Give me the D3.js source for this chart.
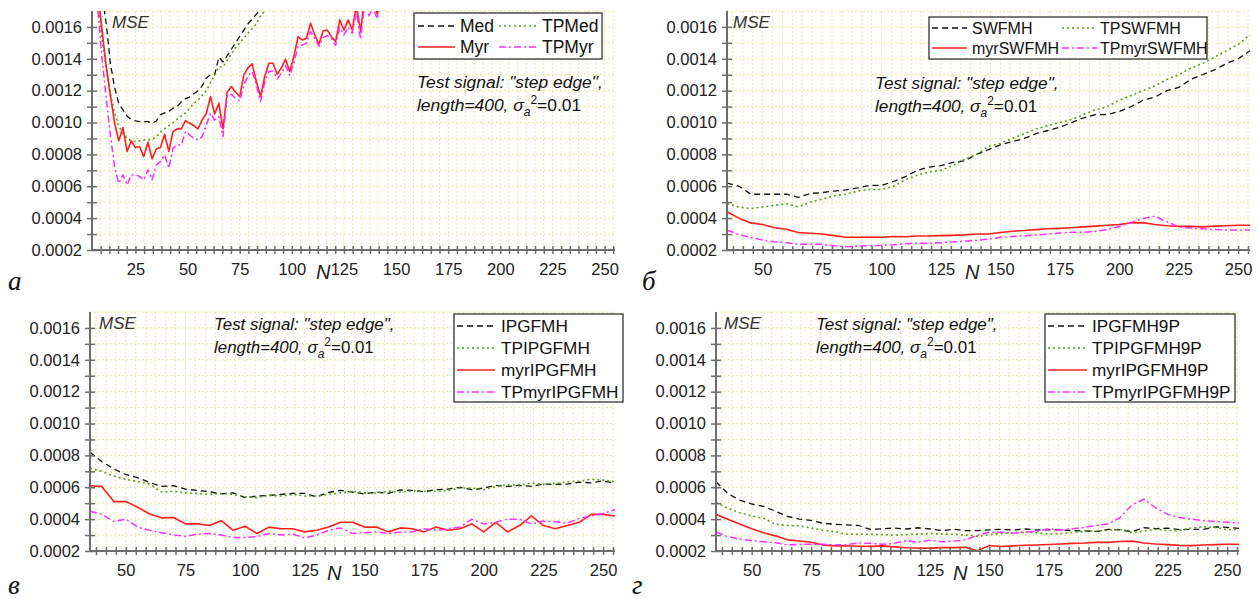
<!DOCTYPE html>
<html>
<head>
<meta charset="utf-8">
<script src="https://cdnjs.cloudflare.com/ajax/libs/d3/7.8.5/d3.min.js"></script>
<style>
  body { margin: 0; background: #fff; }
  svg { display: block; font-family: "Liberation Sans", Arial, sans-serif; }
</style>
</head>
<body>
<svg id="chart" width="1258" height="599"></svg>
<script>
// ---- data (MSE vs window size N) ----
const yMajorTicks = [0.0002, 0.0004, 0.0006, 0.0008, 0.0010, 0.0012, 0.0014, 0.0016];

// panel а
const nA = d3.range(7, 144, 2);
const medA = [0.0019,0.0018,0.00162,0.00137,0.00122,0.00112,0.00108,0.00104,0.00102,0.00101,0.001006,0.001006,0.001006,0.000995,0.00101,0.00105,0.00106,0.00107,0.00109,0.0011,0.00113,0.00115,0.00116,0.00118,0.0012,0.00123,0.00128,0.0013,0.0013,0.00141,0.00138,0.00142,0.00146,0.0015,0.00154,0.00158,0.00162,0.00165,0.00168,0.00171,0.00175,0.00179];
const tpMedA = [0.0018,0.00152,0.00134,0.00118,0.00106,0.00098,0.00093,0.0009,0.000885,0.00088,0.000885,0.00089,0.00089,0.000895,0.00091,0.00094,0.00096,0.00098,0.001,0.00102,0.00104,0.00106,0.00109,0.00112,0.00114,0.00117,0.0012,0.00125,0.0013,0.00135,0.00135,0.00139,0.00143,0.00147,0.0015,0.00153,0.00156,0.00159,0.00162,0.00167,0.0017,0.00174];
const myrA = [0.0018,0.00158,0.00135,0.00117,0.001,0.000885,0.000968,0.000818,0.000885,0.000843,0.000849,0.000786,0.000876,0.000772,0.000834,0.000843,0.000926,0.000818,0.000943,0.00096,0.00096,0.001012,0.000995,0.000981,0.00096,0.001016,0.001058,0.001163,0.001054,0.001121,0.00096,0.00119,0.001226,0.00119,0.001163,0.001299,0.001345,0.001368,0.001257,0.001163,0.001289,0.001372,0.001372,0.001303,0.001345,0.001397,0.00132,0.001414,0.001539,0.001518,0.001529,0.001623,0.00155,0.001491,0.001575,0.001581,0.001539,0.001508,0.001644,0.001581,0.001644,0.001581,0.00174,0.00157,0.0018,0.00171,0.00176,0.00168,0.00182];
const tpMyrA = [0.0017,0.0014,0.00115,0.00092,0.00072,0.000619,0.000671,0.000608,0.000671,0.000671,0.000661,0.00064,0.000703,0.00064,0.000734,0.000755,0.000797,0.000713,0.000838,0.000859,0.000859,0.000943,0.000922,0.000901,0.000891,0.000912,0.000985,0.001058,0.001016,0.001037,0.000912,0.001169,0.001177,0.001152,0.001136,0.001236,0.001295,0.00132,0.001236,0.001131,0.001253,0.00132,0.001324,0.001274,0.001309,0.001357,0.001295,0.001372,0.001477,0.001487,0.001497,0.001571,0.001529,0.001477,0.001533,0.001546,0.001529,0.001483,0.001596,0.00155,0.0016,0.00156,0.0017,0.00152,0.00176,0.00167,0.00172,0.00165,0.0018];

// panels б, в, г share N = 35..255
const nBCD = d3.range(35, 256, 5);

const swfmhB = [0.00062,0.0006,0.00055,0.00055,0.00055,0.00055,0.00053,0.000555,0.00056,0.00057,0.000577,0.00059,0.000605,0.000605,0.00063,0.00066,0.0007,0.00072,0.00073,0.00075,0.00076,0.0008,0.00083,0.00086,0.00088,0.0009,0.00093,0.00095,0.00097,0.001,0.00103,0.00105,0.00105,0.00107,0.0011,0.00114,0.00116,0.0012,0.00122,0.00127,0.0013,0.00133,0.00137,0.0014,0.00145];
const tpSwfmhB = [0.00049,0.00047,0.00046,0.00047,0.00048,0.00049,0.00047,0.0005,0.00052,0.00054,0.00055,0.00057,0.00058,0.00058,0.0006,0.00064,0.00067,0.00069,0.0007,0.00073,0.00077,0.0008,0.00085,0.00087,0.0009,0.00093,0.00096,0.00098,0.001,0.00102,0.00105,0.00108,0.0011,0.00114,0.00117,0.0012,0.00123,0.00127,0.0013,0.00134,0.00137,0.00141,0.00145,0.00149,0.00155];
const myrSwfmhB = [0.00044,0.0004,0.00037,0.00036,0.00034,0.00033,0.00031,0.000305,0.0003,0.00029,0.00028,0.00028,0.000282,0.00028,0.000285,0.000283,0.000288,0.000288,0.00029,0.000292,0.000295,0.0003,0.0003,0.00031,0.000318,0.000322,0.000328,0.000333,0.000336,0.00034,0.000345,0.00035,0.000355,0.00036,0.00037,0.000372,0.00036,0.000352,0.000348,0.000348,0.000345,0.00035,0.000352,0.000355,0.000355];
const tpMyrSwfmhB = [0.000325,0.000297,0.000278,0.000262,0.000252,0.000245,0.000236,0.000237,0.000236,0.000227,0.000221,0.000224,0.000227,0.000229,0.000233,0.00024,0.000242,0.000242,0.000246,0.00025,0.000255,0.00026,0.000268,0.00028,0.000284,0.00029,0.000294,0.0003,0.000307,0.000311,0.000311,0.000317,0.000328,0.000348,0.000372,0.000398,0.000412,0.000378,0.000344,0.000338,0.000333,0.000328,0.000326,0.000326,0.000326];

const ipgC = [0.00082,0.00076,0.000715,0.00068,0.00066,0.00063,0.000605,0.00061,0.000588,0.00058,0.000572,0.000558,0.000565,0.000535,0.000545,0.000548,0.000555,0.000562,0.000562,0.00054,0.000568,0.00058,0.00057,0.000558,0.00057,0.000562,0.000583,0.00058,0.000572,0.000585,0.000588,0.0006,0.000585,0.000595,0.000612,0.000605,0.000612,0.000605,0.00062,0.000618,0.00062,0.000632,0.000628,0.00064,0.000625];
const tpIpgC = [0.00072,0.0007,0.00067,0.00065,0.000635,0.00062,0.00057,0.000575,0.000565,0.00056,0.000555,0.00056,0.000555,0.00054,0.000535,0.00055,0.000545,0.000555,0.000545,0.000545,0.000555,0.000565,0.000575,0.000565,0.000562,0.000575,0.00057,0.000578,0.000575,0.000575,0.00058,0.000595,0.000595,0.000585,0.000605,0.000615,0.000615,0.000625,0.00062,0.000625,0.000635,0.000638,0.00065,0.000645,0.000635];
const myrIpgC = [0.00061,0.000604,0.00051,0.00051,0.000475,0.000432,0.000408,0.00041,0.00037,0.00037,0.00036,0.00039,0.00033,0.000355,0.00031,0.00035,0.00034,0.00034,0.00032,0.00033,0.00035,0.00038,0.00038,0.00035,0.00035,0.00032,0.000345,0.00034,0.00032,0.00035,0.00033,0.00034,0.00037,0.00032,0.00038,0.00032,0.00036,0.00042,0.00036,0.00034,0.00036,0.00038,0.00043,0.00043,0.00042];
const tpMyrIpgC = [0.00045,0.00043,0.000385,0.0004,0.00035,0.00033,0.000315,0.0003,0.000292,0.000305,0.00031,0.0003,0.000285,0.000285,0.00029,0.00031,0.0003,0.000305,0.000282,0.0003,0.00033,0.000345,0.00031,0.000315,0.00032,0.00031,0.000318,0.00032,0.00034,0.00033,0.00034,0.00035,0.0004,0.00037,0.00038,0.0004,0.0004,0.00037,0.000388,0.000384,0.000375,0.000405,0.00042,0.000435,0.00046];

const ipg9D = [0.000635,0.00056,0.00052,0.000495,0.00048,0.00045,0.000418,0.0004,0.000392,0.000374,0.000368,0.000364,0.00036,0.000335,0.00034,0.000344,0.000338,0.000346,0.000338,0.000328,0.000336,0.000328,0.000328,0.000332,0.000336,0.000332,0.000338,0.000332,0.000332,0.000332,0.000328,0.000326,0.000322,0.000336,0.000332,0.000322,0.000346,0.00034,0.000344,0.000334,0.000336,0.000336,0.000352,0.000348,0.000342];
const tpIpg9D = [0.000505,0.000468,0.00044,0.00042,0.000405,0.000368,0.00036,0.000358,0.000345,0.00033,0.000322,0.000305,0.000305,0.000305,0.000303,0.0003,0.000303,0.000306,0.00031,0.000306,0.000305,0.0003,0.000292,0.000302,0.00031,0.000315,0.00032,0.000315,0.000306,0.00031,0.000316,0.000322,0.000326,0.00033,0.000335,0.000315,0.000325,0.000336,0.000328,0.00033,0.000345,0.000352,0.000348,0.000334,0.000336];
const myrIpg9D = [0.00043,0.0004,0.00037,0.00034,0.000315,0.000295,0.00027,0.000263,0.000255,0.000238,0.000232,0.000233,0.00023,0.000229,0.000232,0.000226,0.00022,0.000218,0.000218,0.000221,0.000221,0.000224,0.000202,0.000235,0.000228,0.000232,0.000236,0.000238,0.000241,0.000244,0.000248,0.00025,0.000254,0.000254,0.00026,0.000262,0.00025,0.000244,0.00024,0.000235,0.000234,0.000238,0.00024,0.000242,0.000242];
const tpMyrIpg9D = [0.00032,0.00029,0.000275,0.000265,0.000258,0.000252,0.000238,0.000242,0.000242,0.000242,0.000238,0.00024,0.00025,0.000248,0.000242,0.000248,0.000265,0.000255,0.000268,0.000258,0.000262,0.00027,0.000298,0.000318,0.000318,0.000312,0.000318,0.000324,0.00034,0.000332,0.00034,0.000348,0.00036,0.00037,0.00041,0.00049,0.000525,0.00047,0.00043,0.00041,0.0004,0.00039,0.000385,0.00038,0.000375];

// ---- styles ----
const style = {
  black:   { stroke: '#111',    dash: '6,4',     width: 1.3 },
  green:   { stroke: '#5c9e1c', dash: '2,3',     width: 1.6 },
  red:     { stroke: '#ff1f1f', dash: null,      width: 1.6 },
  magenta: { stroke: '#ff2cff', dash: '7,3,2,3', width: 1.5 }
};

const panels = [
  {
    letter: 'а', letterPos: [8, 290],
    box: { x0: 92, x1: 615, y0: 11, y1: 250 },
    xdom: [25 / 6, 255], xmajor: d3.range(25, 251, 25),
    series: [
      { name: 'Med',   n: nA, v: medA,   st: 'black',   col: 0, row: 0 },
      { name: 'TPMed', n: nA, v: tpMedA, st: 'green',   col: 1, row: 0 },
      { name: 'Myr',   n: nA, v: myrA,   st: 'red',     col: 0, row: 1 },
      { name: 'TPMyr', n: nA, v: tpMyrA, st: 'magenta', col: 1, row: 1 }
    ],
    legend: { x: 414, y: 13, w: 188, h: 46, rows: [26, 47], cols: [[418, 455, 460], [499, 537, 542]], fs: 17.5 },
    note: [417, 88], noteFs: 17.4, mse: [112, 28], nlab: [316, 279]
  },
  {
    letter: 'б', letterPos: [642, 290],
    box: { x0: 727, x1: 1250, y0: 11, y1: 250 },
    xdom: [35, 255], xmajor: d3.range(50, 251, 25),
    series: [
      { name: 'SWFMH',      n: nBCD, v: swfmhB,      st: 'black',   col: 0, row: 0 },
      { name: 'TPSWFMH',    n: nBCD, v: tpSwfmhB,    st: 'green',   col: 1, row: 0 },
      { name: 'myrSWFMH',   n: nBCD, v: myrSwfmhB,   st: 'red',     col: 0, row: 1 },
      { name: 'TPmyrSWFMH', n: nBCD, v: tpMyrSwfmhB, st: 'magenta', col: 1, row: 1 }
    ],
    legend: { x: 929, y: 17, w: 278, h: 42, rows: [28, 48], cols: [[932, 967, 972], [1062, 1097, 1100]], fs: 16 },
    note: [875, 89], noteFs: 17.2, mse: [733, 28], nlab: [965, 279]
  },
  {
    letter: 'в', letterPos: [8, 594],
    box: { x0: 90, x1: 615, y0: 312, y1: 551 },
    xdom: [35, 255], xmajor: d3.range(50, 251, 25),
    series: [
      { name: 'IPGFMH',      n: nBCD, v: ipgC,      st: 'black',   col: 0, row: 0 },
      { name: 'TPIPGFMH',    n: nBCD, v: tpIpgC,    st: 'green',   col: 0, row: 1 },
      { name: 'myrIPGFMH',   n: nBCD, v: myrIpgC,   st: 'red',     col: 0, row: 2 },
      { name: 'TPmyrIPGFMH', n: nBCD, v: tpMyrIpgC, st: 'magenta', col: 0, row: 3 }
    ],
    legend: { x: 454, y: 314, w: 169, h: 88, rows: [326, 348, 370, 392], cols: [[457, 495, 501]], fs: 17.2 },
    note: [214, 330], noteFs: 16.9, mse: [99, 329], nlab: [327, 580]
  },
  {
    letter: 'г', letterPos: [632, 594],
    box: { x0: 716, x1: 1239, y0: 312, y1: 551 },
    xdom: [35, 255], xmajor: d3.range(50, 251, 25),
    series: [
      { name: 'IPGFMH9P',      n: nBCD, v: ipg9D,      st: 'black',   col: 0, row: 0 },
      { name: 'TPIPGFMH9P',    n: nBCD, v: tpIpg9D,    st: 'green',   col: 0, row: 1 },
      { name: 'myrIPGFMH9P',   n: nBCD, v: myrIpg9D,   st: 'red',     col: 0, row: 2 },
      { name: 'TPmyrIPGFMH9P', n: nBCD, v: tpMyrIpg9D, st: 'magenta', col: 0, row: 3 }
    ],
    legend: { x: 1045, y: 314, w: 190, h: 88, rows: [326, 348, 370, 392], cols: [[1048, 1087, 1092]], fs: 17.2 },
    note: [816, 330], noteFs: 17, mse: [724, 329], nlab: [953, 580]
  }
];

const svg = d3.select('#chart');
svg.append('rect').attr('width', 1258).attr('height', 599).attr('fill', '#fff');

const axisColor = '#6d6d6d';
const gridColor = '#eee7a4';
const yfmt = d3.format('.4f');

panels.forEach((p, i) => {
  const b = p.box;
  const x = d3.scaleLinear().domain(p.xdom).range([b.x0, b.x1]);
  const y = d3.scaleLinear().domain([0.0002, 0.0017]).range([b.y1, b.y0]);

  const g = svg.append('g');

  // minor grid: 6 steps per 25 in N, 0.0001 in MSE
  const xgrid = d3.range(-12, 80).map(k => p.xmajor[0] + k * 25 / 6)
    .filter(v => v > p.xdom[0] + 0.01 && v <= p.xdom[1] + 0.01);
  const ygrid = d3.range(3, 18).map(k => k * 0.0001);

  g.selectAll('.gx').data(xgrid).join('line')
    .attr('x1', d => x(d)).attr('x2', d => x(d))
    .attr('y1', b.y0).attr('y2', b.y1)
    .attr('stroke', gridColor).attr('stroke-width', 1).attr('stroke-dasharray', '2,2');
  g.selectAll('.gy').data(ygrid).join('line')
    .attr('x1', b.x0).attr('x2', b.x1)
    .attr('y1', d => y(d)).attr('y2', d => y(d))
    .attr('stroke', gridColor).attr('stroke-width', 1).attr('stroke-dasharray', '2,2');

  // data lines
  svg.append('clipPath').attr('id', 'clip' + i)
    .append('rect').attr('x', b.x0).attr('y', b.y0)
    .attr('width', b.x1 - b.x0 + 1).attr('height', b.y1 - b.y0);

  const line = d3.line().x(d => x(d[0])).y(d => y(d[1]));
  const lines = g.append('g').attr('clip-path', `url(#clip${i})`);
  p.series.forEach(s => {
    const st = style[s.st];
    const pts = s.v.map((v, k) => [s.n[k], v]);
    lines.append('path').datum(pts)
      .attr('d', line)
      .attr('fill', 'none')
      .attr('stroke', st.stroke)
      .attr('stroke-width', st.width)
      .attr('stroke-dasharray', st.dash)
      .attr('stroke-linejoin', 'round');
  });

  // axes
  const yAxis = d3.axisLeft(y)
    .tickValues(d3.range(2, 17).map(k => k * 0.0001))
    .tickSizeInner(5).tickSizeOuter(0).tickPadding(5)
    .tickFormat(d => yMajorTicks.some(t => Math.abs(t - d) < 1e-9) ? yfmt(d) : '');
  const ya = g.append('g').attr('transform', `translate(${b.x0},0)`).call(yAxis);
  ya.select('.domain').attr('stroke', axisColor).attr('stroke-width', 2)
    .attr('d', `M0,${b.y0}V${b.y1}`);
  ya.selectAll('.tick line').attr('stroke', axisColor).attr('stroke-width', 1.5).attr('x2', 5).attr('x1', -5);
  ya.selectAll('.tick text').attr('fill', '#222').style('font-size', '16.5px');

  const xAxis = d3.axisBottom(x)
    .tickValues(xgrid)
    .tickSizeInner(4).tickSizeOuter(0).tickPadding(5)
    .tickFormat(d => p.xmajor.some(t => Math.abs(t - d) < 1e-6) ? d3.format('d')(d) : '');
  const xa = g.append('g').attr('transform', `translate(0,${b.y1})`).call(xAxis);
  xa.select('.domain').attr('stroke', axisColor).attr('stroke-width', 2)
    .attr('d', `M${b.x0},0H${b.x1}`);
  xa.selectAll('.tick line').attr('stroke', axisColor).attr('stroke-width', 1.5).attr('y1', -4).attr('y2', 4);
  xa.selectAll('.tick text').attr('fill', '#222').style('font-size', '16.5px').attr('dy', '0.95em');

  // legend
  const L = p.legend;
  const lg = g.append('g');
  lg.append('rect').attr('x', L.x).attr('y', L.y).attr('width', L.w).attr('height', L.h)
    .attr('fill', '#fff').attr('stroke', '#333').attr('stroke-width', 1.3);
  p.series.forEach(s => {
    const st = style[s.st];
    const c = L.cols[s.col], ry = L.rows[s.row];
    lg.append('line').attr('x1', c[0]).attr('x2', c[1]).attr('y1', ry).attr('y2', ry)
      .attr('stroke', st.stroke).attr('stroke-width', st.width).attr('stroke-dasharray', st.dash);
    lg.append('text').attr('x', c[2]).attr('y', ry).attr('dy', '0.36em')
      .style('font-size', L.fs + 'px').attr('fill', '#111').text(s.name);
  });

  // annotation
  const fs = p.noteFs;
  const note = g.append('text').attr('x', p.note[0]).attr('y', p.note[1])
    .style('font-size', fs + 'px').attr('fill', '#111');
  note.append('tspan').style('font-style', 'italic').text('Test signal: "step edge",');
  const l2 = g.append('text').attr('x', p.note[0]).attr('y', p.note[1] + 23)
    .style('font-size', fs + 'px').attr('fill', '#111');
  l2.append('tspan').style('font-style', 'italic').text('length=400, σ');
  l2.append('tspan').style('font-style', 'italic').style('font-size', '12px').attr('dy', 5).text('a');
  l2.append('tspan').style('font-size', '12px').attr('dy', -12).text('2');
  l2.append('tspan').attr('dy', 7).text('=0.01');

  g.append('text').attr('x', p.mse[0]).attr('y', p.mse[1])
    .style('font-size', '17px').style('font-style', 'italic').attr('fill', '#333').text('MSE');
  g.append('text').attr('x', p.nlab[0]).attr('y', p.nlab[1])
    .style('font-size', '20px').style('font-style', 'italic').attr('fill', '#222').text('N');

  g.append('text').attr('x', p.letterPos[0]).attr('y', p.letterPos[1])
    .style('font-family', '"Liberation Serif", "DejaVu Serif", serif')
    .style('font-size', '27px').style('font-style', 'italic').attr('fill', '#111').text(p.letter);
});
</script>
</body>
</html>
